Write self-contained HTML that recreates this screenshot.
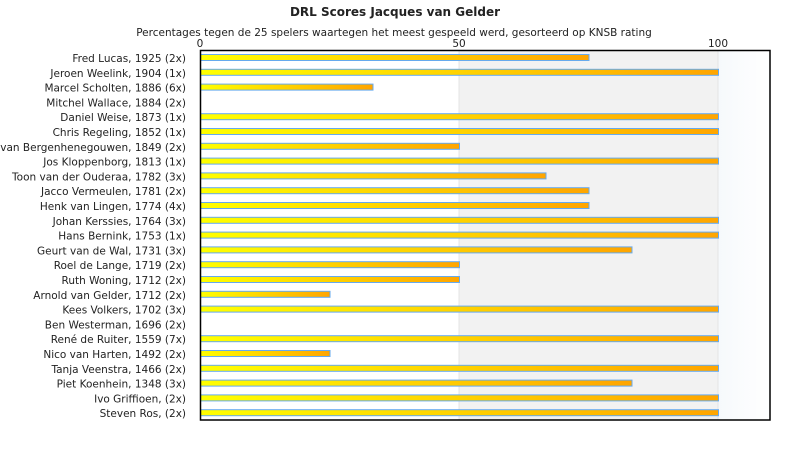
<!DOCTYPE html>
<html><head><meta charset="utf-8"><style>body{margin:0;background:#fff}</style></head><body>
<svg width="790" height="450" xmlns="http://www.w3.org/2000/svg" font-family="DejaVu Sans, Liberation Sans, sans-serif">
<defs>
<linearGradient id="g" x1="0" x2="1" y1="0" y2="0"><stop offset="0" stop-color="#ffff00"/><stop offset="1" stop-color="#ffa500"/></linearGradient>
<linearGradient id="b" x1="0" x2="1"><stop offset="0" stop-color="#f6f9fc"/><stop offset="1" stop-color="#ffffff"/></linearGradient>
</defs>
<text x="395" y="16" text-anchor="middle" font-size="12" font-weight="bold" fill="#222">DRL Scores Jacques van Gelder</text>
<text x="394" y="36" text-anchor="middle" font-size="10.5" fill="#222">Percentages tegen de 25 spelers waartegen het meest gespeeld werd, gesorteerd op KNSB rating</text>
<text x="200" y="47" text-anchor="middle" font-size="10.5" fill="#222">0</text>
<text x="459" y="47" text-anchor="middle" font-size="10.5" fill="#222">50</text>
<text x="718" y="47" text-anchor="middle" font-size="10.5" fill="#222">100</text>
<rect x="459" y="50" width="259" height="370" fill="#f2f2f2"/>
<rect x="718" y="50" width="52" height="370" fill="url(#b)"/>
<line x1="459" y1="50" x2="459" y2="420" stroke="#e4e4e4"/>
<line x1="718" y1="50" x2="718" y2="420" stroke="#e4e4e4"/>
<g font-size="10.5" fill="#222" text-anchor="end" xml:space="preserve" style="white-space:pre">
<text x="186" y="62">Fred Lucas, 1925 (2x)</text>
<text x="186" y="76.8">Jeroen Weelink, 1904 (1x)</text>
<text x="186" y="91.6">Marcel Scholten, 1886 (6x)</text>
<text x="186" y="106.4">Mitchel Wallace, 1884 (2x)</text>
<text x="186" y="121.2">Daniel Weise, 1873 (1x)</text>
<text x="186" y="136">Chris Regeling, 1852 (1x)</text>
<text x="186" y="150.8">Wim van Bergenhenegouwen, 1849 (2x)</text>
<text x="186" y="165.6">Jos Kloppenborg, 1813 (1x)</text>
<text x="186" y="180.4">Toon van der Ouderaa, 1782 (3x)</text>
<text x="186" y="195.2">Jacco Vermeulen, 1781 (2x)</text>
<text x="186" y="210">Henk van Lingen, 1774 (4x)</text>
<text x="186" y="224.8">Johan Kerssies, 1764 (3x)</text>
<text x="186" y="239.6">Hans Bernink, 1753 (1x)</text>
<text x="186" y="254.4">Geurt van de Wal, 1731 (3x)</text>
<text x="186" y="269.2">Roel de Lange, 1719 (2x)</text>
<text x="186" y="284">Ruth Woning, 1712 (2x)</text>
<text x="186" y="298.8">Arnold van Gelder, 1712 (2x)</text>
<text x="186" y="313.6">Kees Volkers, 1702 (3x)</text>
<text x="186" y="328.4">Ben Westerman, 1696 (2x)</text>
<text x="186" y="343.2">René de Ruiter, 1559 (7x)</text>
<text x="186" y="358">Nico van Harten, 1492 (2x)</text>
<text x="186" y="372.8">Tanja Veenstra, 1466 (2x)</text>
<text x="186" y="387.6">Piet Koenhein, 1348 (3x)</text>
<text x="186" y="402.4">Ivo Griffioen,  (2x)</text>
<text x="186" y="417.2">Steven Ros,  (2x)</text>
</g>
<g fill="url(#g)" stroke="#66aaee" stroke-width="1">
<rect x="200.5" y="54.5" width="388.5" height="6"/>
<rect x="200.5" y="69.3" width="518" height="6"/>
<rect x="200.5" y="84.1" width="172.5" height="6"/>
<rect x="200.5" y="113.7" width="518" height="6"/>
<rect x="200.5" y="128.5" width="518" height="6"/>
<rect x="200.5" y="143.3" width="259" height="6"/>
<rect x="200.5" y="158.1" width="518" height="6"/>
<rect x="200.5" y="172.9" width="345.5" height="6"/>
<rect x="200.5" y="187.7" width="388.5" height="6"/>
<rect x="200.5" y="202.5" width="388.5" height="6"/>
<rect x="200.5" y="217.3" width="518" height="6"/>
<rect x="200.5" y="232.1" width="518" height="6"/>
<rect x="200.5" y="246.9" width="431.5" height="6"/>
<rect x="200.5" y="261.7" width="259" height="6"/>
<rect x="200.5" y="276.5" width="259" height="6"/>
<rect x="200.5" y="291.3" width="129.5" height="6"/>
<rect x="200.5" y="306.1" width="518" height="6"/>
<rect x="200.5" y="335.7" width="518" height="6"/>
<rect x="200.5" y="350.5" width="129.5" height="6"/>
<rect x="200.5" y="365.3" width="518" height="6"/>
<rect x="200.5" y="380.1" width="431.5" height="6"/>
<rect x="200.5" y="394.9" width="518" height="6"/>
<rect x="200.5" y="409.7" width="518" height="6"/>
</g>
<rect x="200.5" y="50.5" width="569.5" height="369.5" fill="none" stroke="#000" stroke-width="1.5"/>
</svg>
</body></html>
